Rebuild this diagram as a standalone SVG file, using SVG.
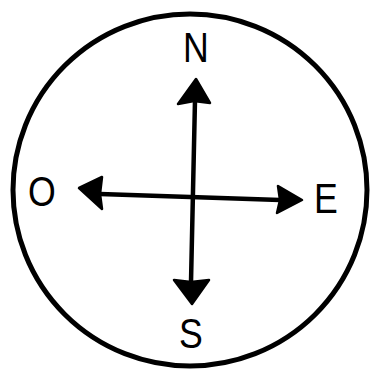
<svg xmlns="http://www.w3.org/2000/svg" width="377" height="381" viewBox="0 0 377 381">
<style>
.lbl{font-family:"Liberation Sans",Arial,sans-serif;font-size:42px;fill:#000;text-anchor:middle}
.shaft{stroke:#000;stroke-width:4.5;fill:none;stroke-linecap:round}
.head{fill:#000;stroke:#000;stroke-width:2.5;stroke-linejoin:round}
</style>
<rect width="377" height="381" fill="#fff"/>
<g id="dial">
<ellipse cx="190" cy="190" rx="177" ry="176" fill="none" stroke="#000" stroke-width="5"/>
</g>
<g id="connectors">
<line class="shaft" x1="191" y1="282" x2="195" y2="100"/>
<line class="shaft" x1="100" y1="194" x2="280" y2="200"/>
<path class="head" d="M196,79 L210,103 L194,101 L178,104 Z"/>
<path class="head" d="M192,304 L174,280 L191,282 L209,280 Z"/>
<path class="head" d="M79,188 L102,177 L100,194 L102,209 Z"/>
<path class="head" d="M302,200 L278,186 L280,200 L277,213 Z"/>
</g>
<g id="node-N"><text class="lbl" x="196" y="62" transform="translate(196 0) scale(0.85 1) translate(-196 0)">N</text></g>
<g id="node-O"><text class="lbl" x="42" y="206" transform="translate(42 0) scale(0.85 1) translate(-42 0)">O</text></g>
<g id="node-E"><text class="lbl" x="326" y="213" transform="translate(326 0) scale(0.85 1) translate(-326 0)">E</text></g>
<g id="node-S"><text class="lbl" x="191" y="348" transform="translate(191 0) scale(0.85 1) translate(-191 0)">S</text></g>
</svg>
